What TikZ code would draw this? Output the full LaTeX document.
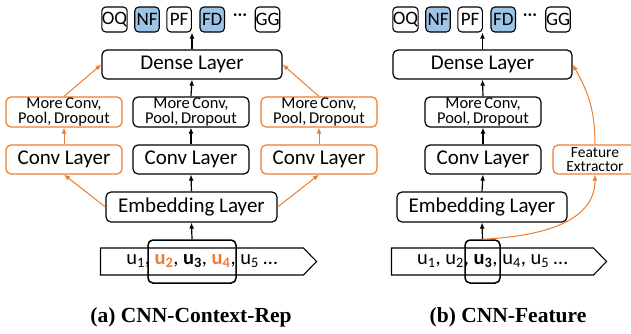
\documentclass[tikz,border=0pt]{standalone}
\usepackage{fontspec}
\setmainfont{Liberation Serif}
\setsansfont{Carlito}
\usepackage{xcolor}
\usetikzlibrary{arrows.meta, positioning, shapes.symbols}
\definecolor{ctxorange}{HTML}{ED7D31}
\definecolor{tagblue}{HTML}{9DC3E6}
\newcommand{\hiu}[1]{\textcolor{ctxorange}{\textbf{u\textsubscript{#1}}}}
\newcommand{\tightwords}{\spaceskip=0.15em\relax}

\begin{document}
\begin{tikzpicture}[x=1pt, y=-1pt,
    layer/.style={draw, rounded corners=5pt, line width=1.2pt, inner sep=0pt,
      minimum height=29pt, font=\sffamily\fontsize{21}{22}\selectfont},
    morebox/.style={layer, minimum width=116pt, minimum height=30pt, align=center,
      font=\sffamily\fontsize{16.5}{15.5}\selectfont\tightwords},
    ctx/.style={draw=ctxorange},
    tag/.style={draw, rounded corners=4pt, line width=1.1pt, inner sep=0pt,
      minimum width=24.5pt, minimum height=25pt, font=\sffamily\fontsize{19}{20}\selectfont},
    seq/.style={draw, signal, signal to=east, signal pointer angle=92, line width=1.1pt,
      inner sep=0pt, minimum width=216pt, minimum height=27pt,
      font=\sffamily\fontsize{20.5}{22}\selectfont},
    window/.style={draw, rounded corners=5pt, line width=1.5pt, minimum height=43pt, inner sep=0pt},
    tip/.style={-{Latex[length=6pt,width=5pt]}, line width=1.2pt},
    ctxtip/.style={-{Latex[length=6pt,width=5pt]}, line width=1pt, ctxorange},
    caption/.style={font=\bfseries\fontsize{21.5}{24}\selectfont}]
  \useasboundingbox (0,0) rectangle (631,333);

  % (a) CNN-Context-Rep
  \node (oqa)[tag] at (114.5,19.5) {OQ};
  \node (nfa)[tag, fill=tagblue, right=6.5pt of oqa] {NF};
  \node (pfa)[tag, right=6.5pt of nfa] {PF};
  \node (fda)[tag, fill=tagblue, right=7.5pt of pfa] {FD};
  \node (dotsa)[font=\sffamily\fontsize{19}{20}\selectfont] at (240,17) {···};
  \node (gga)[tag] at (267.5,19.5) {GG};

  \node (densea)[layer, minimum width=180pt] at (192,64.5) {Dense Layer};
  \node (morela)[morebox, ctx] at (64,112) {More Conv,\\Pool, Dropout};
  \node (morea)[morebox] at (191,112) {More Conv,\\Pool, Dropout};
  \node (morera)[morebox, ctx] at (319,112) {More Conv,\\Pool, Dropout};
  \node (convla)[layer, ctx, minimum width=116pt] at (64,159.5) {Conv Layer};
  \node (conva)[layer, minimum width=116pt] at (191,159.5) {Conv Layer};
  \node (convra)[layer, ctx, minimum width=116pt] at (319,159.5) {Conv Layer};
  \node (emba)[layer, minimum width=171pt, minimum height=30pt] at (191.5,207) {Embedding Layer};
  \node (seqa)[seq] at (202,261.5) {u\textsubscript{1}, \hiu{2}, \textbf{u\textsubscript{3}}, \hiu{4}, u\textsubscript{5} \ldots};
  \node (wina)[window, minimum width=88pt] at (192,261.5) {};
  \node (capa)[caption] at (191,317) {(a) CNN-Context-Rep};
  \coordinate (outa) at (densea.north |- pfa.south);

  \draw[tip] (wina.north) -- (emba.south);
  \draw[tip] (emba.north) -- (conva.south);
  \draw[tip] (conva.north) -- (morea.south);
  \draw[tip] (morea.north) -- (densea.south);
  \draw[tip] (densea.north) -- (outa);
  \draw[ctxtip] (emba.west) -- (convla.south);
  \draw[ctxtip] (emba.east) -- (convra.south);
  \draw[ctxtip] (convla.north) -- (morela.south);
  \draw[ctxtip] (convra.north) -- (morera.south);
  \draw[ctxtip] (morela.north) -- (densea.west);
  \draw[ctxtip] (morera.north) -- (densea.east);

  % (b) CNN-Feature
  \node (oqb)[tag] at (405.5,19.5) {OQ};
  \node (nfb)[tag, fill=tagblue, right=6.5pt of oqb] {NF};
  \node (pfb)[tag, right=6.5pt of nfb] {PF};
  \node (fdb)[tag, fill=tagblue, right=7.5pt of pfb] {FD};
  \node (dotsb)[font=\sffamily\fontsize{19}{20}\selectfont] at (530,17) {···};
  \node (ggb)[tag] at (558,19.5) {GG};

  \node (denseb)[layer, minimum width=179pt] at (482.5,64.5) {Dense Layer};
  \node (moreb)[morebox] at (483,112) {More Conv,\\Pool, Dropout};
  \node (convb)[layer, minimum width=116pt] at (483,159.5) {Conv Layer};
  \node (feat)[layer, ctx, minimum width=84pt, align=center,
    font=\sffamily\fontsize{15.5}{14.5}\selectfont] at (595,159.5) {Feature\\Extractor};
  \node (embb)[layer, minimum width=170pt, minimum height=30pt] at (482,207) {Embedding Layer};
  \node (seqb)[seq, minimum width=215pt] at (492.5,261.5) {u\textsubscript{1}, u\textsubscript{2}, \textbf{u\textsubscript{3}}, u\textsubscript{4}, u\textsubscript{5} \ldots};
  \node (winb)[window, minimum width=35pt] at (482.5,261.5) {};
  \node (capb)[caption] at (508,317) {(b) CNN-Feature};
  \coordinate (outb) at (denseb.north |- pfb.south);

  \draw[tip] (winb.north) -- (embb.south);
  \draw[tip] (embb.north) -- (convb.south);
  \draw[tip] (convb.north) -- (moreb.south);
  \draw[tip] (moreb.north) -- (denseb.south);
  \draw[tip] (denseb.north) -- (outb);
  \draw[ctxtip] (winb.north) to[out=3, in=-90] (feat.south);
  \draw[ctxtip] (feat.north) to[out=90, in=-60] (denseb.east);

\end{tikzpicture}
\end{document}
